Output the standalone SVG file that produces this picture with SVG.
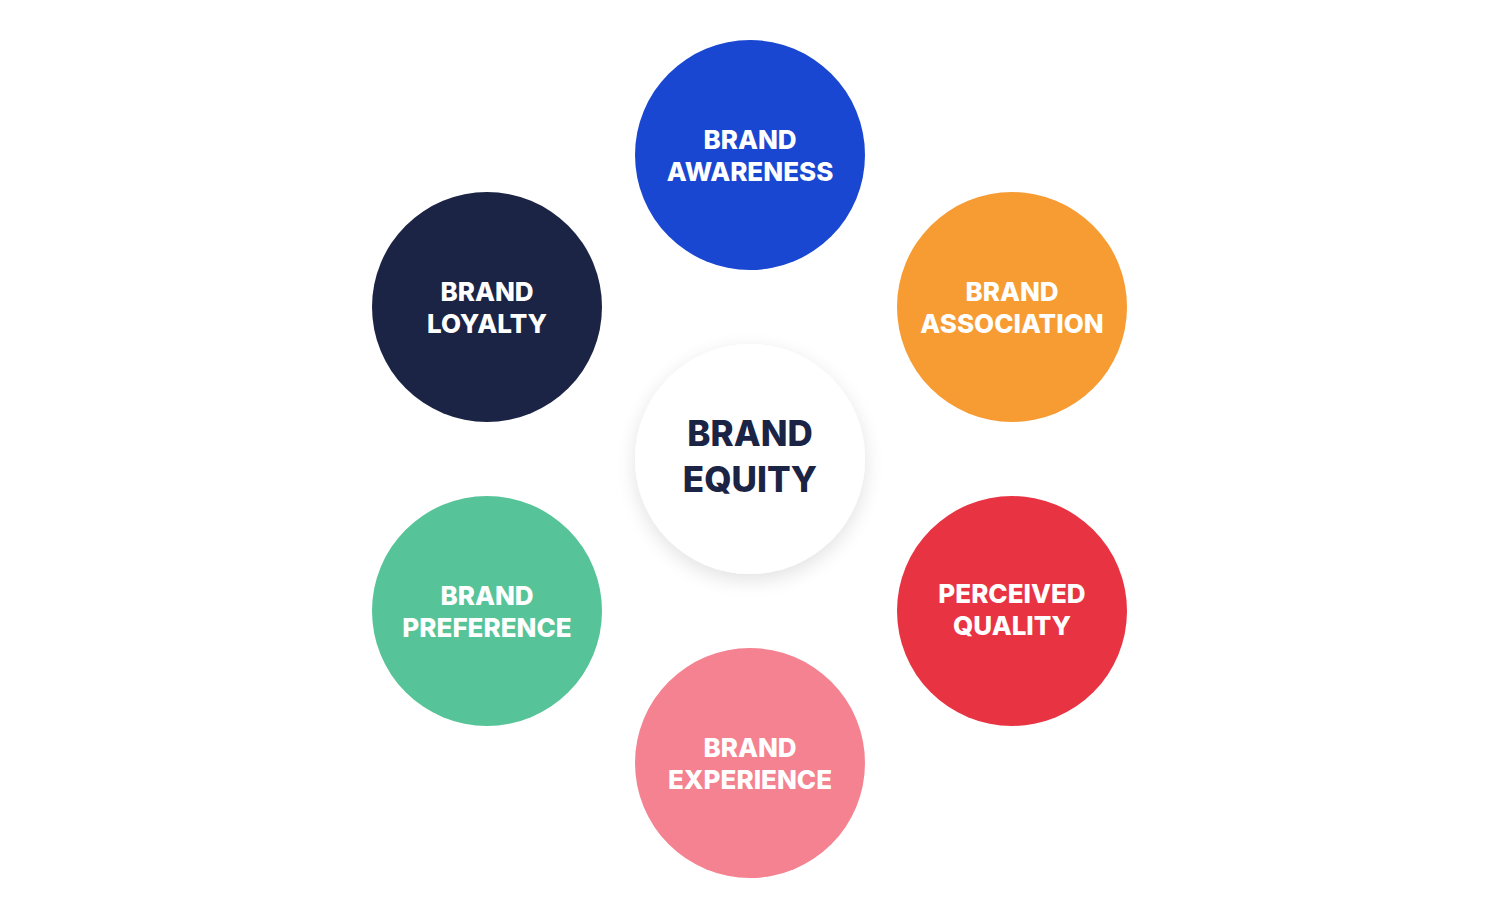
<svg xmlns="http://www.w3.org/2000/svg" width="1500" height="919" viewBox="0 0 1500 919">
<defs>
<style>
.lbl{font-family:"Inter","Open Sans","Liberation Sans",sans-serif;font-weight:800;font-size:26px;fill:#ffffff;text-anchor:middle}
.ctr{font-family:"Inter","Open Sans","Liberation Sans",sans-serif;font-weight:800;font-size:35px;fill:#1b2444;text-anchor:middle}
</style>
<filter id="sh" x="-30%" y="-30%" width="160%" height="170%">
<feGaussianBlur in="SourceAlpha" stdDeviation="10"/>
<feOffset dy="6"/>
<feComponentTransfer><feFuncA type="linear" slope="0.12"/></feComponentTransfer>
<feMerge><feMergeNode/><feMergeNode in="SourceGraphic"/></feMerge>
</filter>
</defs>
<rect width="1500" height="919" fill="#ffffff"/>
<g id="connectors"></g>
<g id="brand-equity">
<circle cx="750" cy="459" r="115" fill="#ffffff" filter="url(#sh)"/>
<text class="ctr" x="750" y="446">BRAND</text>
<text class="ctr" x="750" y="492">EQUITY</text>
</g>
<g id="brand-awareness">
<circle cx="750" cy="155" r="115" fill="#1a47d1"/>
<text class="lbl" x="750" y="149">BRAND</text>
<text class="lbl" x="750" y="181">AWARENESS</text>
</g>
<g id="brand-association">
<circle cx="1012" cy="307" r="115" fill="#f79b33"/>
<text class="lbl" x="1012" y="301">BRAND</text>
<text class="lbl" x="1012" y="333">ASSOCIATION</text>
</g>
<g id="perceived-quality">
<circle cx="1012" cy="611" r="115" fill="#e83343"/>
<text class="lbl" x="1012" y="603">PERCEIVED</text>
<text class="lbl" x="1012" y="635">QUALITY</text>
</g>
<g id="brand-experience">
<circle cx="750" cy="763" r="115" fill="#f48290"/>
<text class="lbl" x="750" y="757">BRAND</text>
<text class="lbl" x="750" y="789">EXPERIENCE</text>
</g>
<g id="brand-preference">
<circle cx="487" cy="611" r="115" fill="#56c498"/>
<text class="lbl" x="487" y="605">BRAND</text>
<text class="lbl" x="487" y="637">PREFERENCE</text>
</g>
<g id="brand-loyalty">
<circle cx="487" cy="307" r="115" fill="#1b2444"/>
<text class="lbl" x="487" y="301">BRAND</text>
<text class="lbl" x="487" y="333">LOYALTY</text>
</g>
</svg>
